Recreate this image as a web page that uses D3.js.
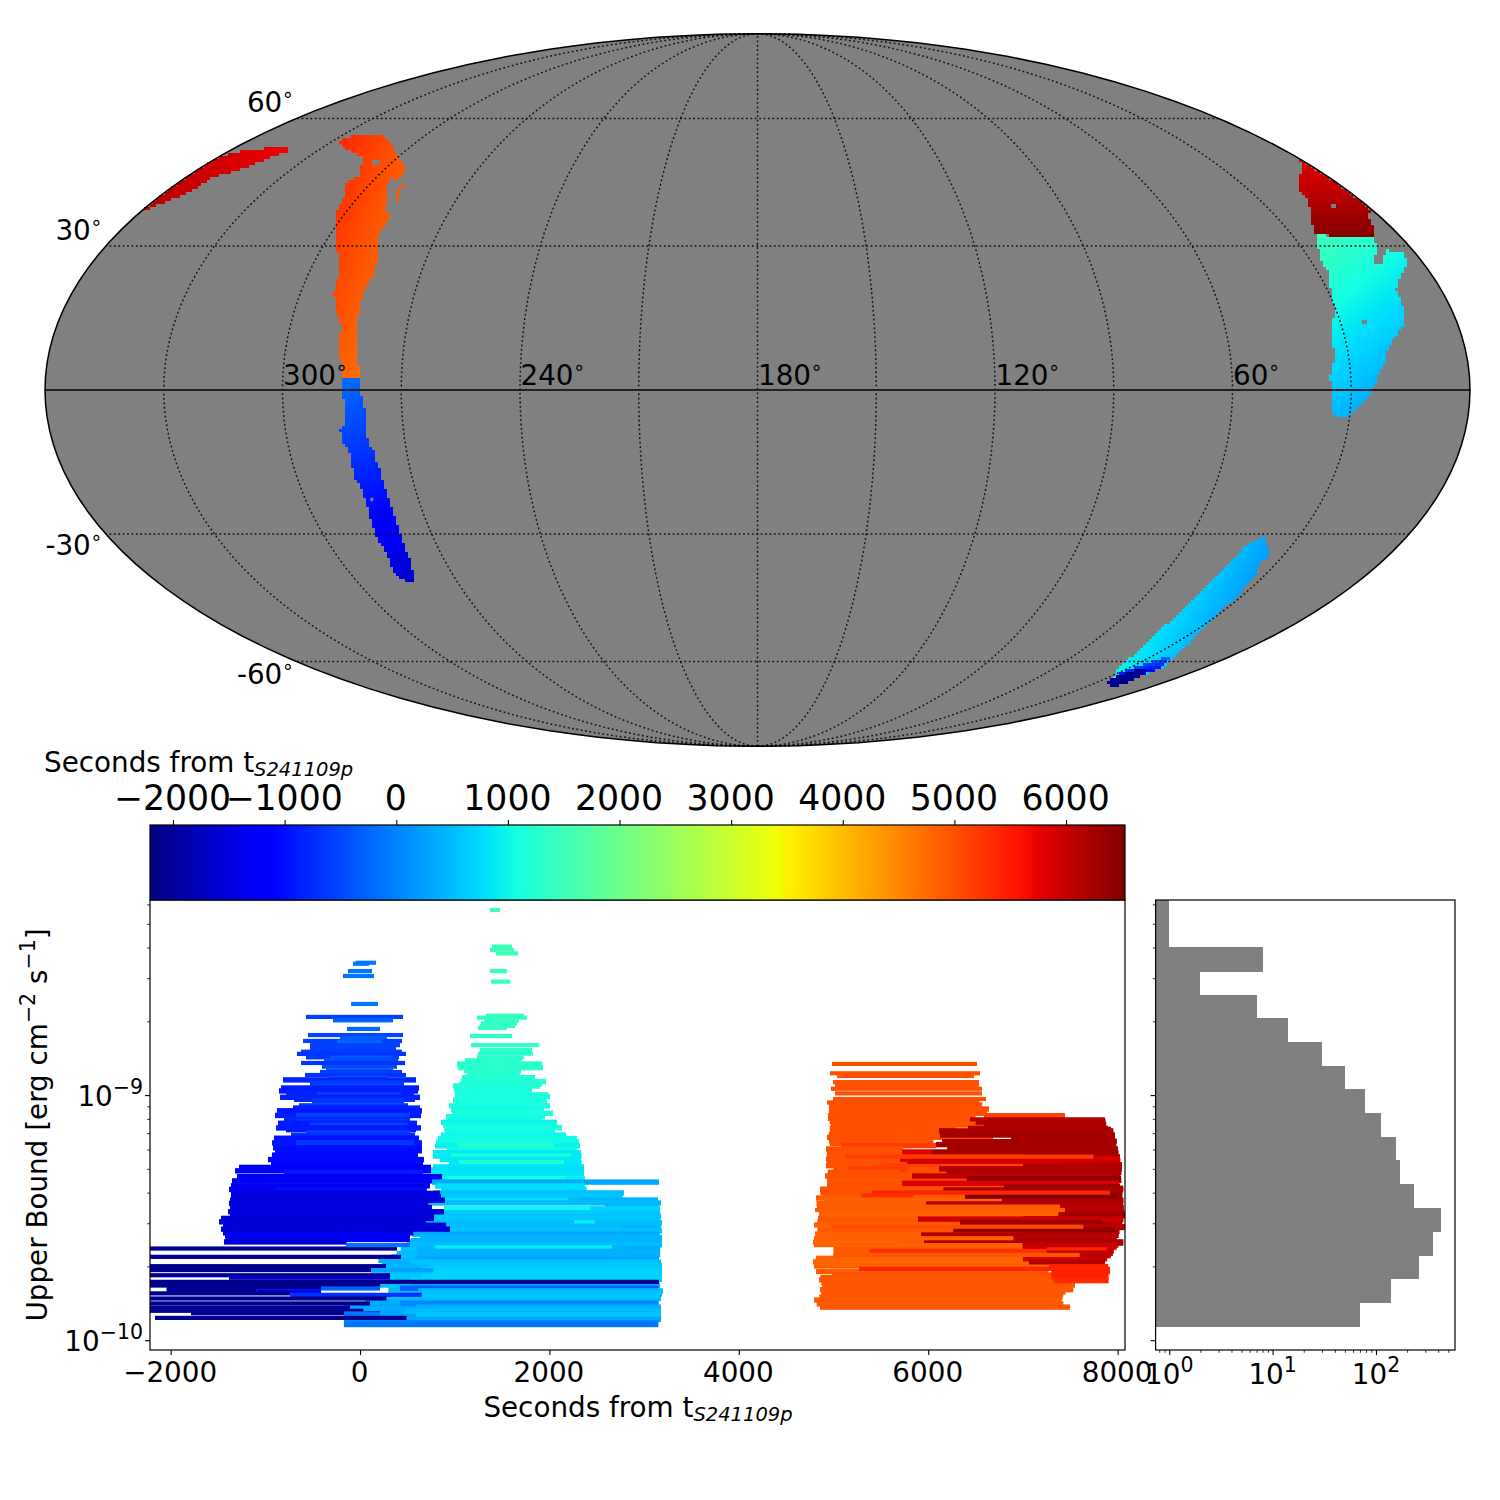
<!DOCTYPE html>
<html><head><meta charset="utf-8">
<script src="https://cdn.jsdelivr.net/npm/d3@7/dist/d3.min.js"></script>
<style>html,body{margin:0;background:#fff}svg{display:block}text{font-family:"DejaVu Sans";fill:#000}</style>
</head><body><svg id="c" width="1500" height="1500"></svg>
<script>
// ---------- colour scale limits and ticks ----------
const timeMin=-2206, timeMax=6528;
const colorbarTicks=[-2000,-1000,0,1000,2000,3000,4000,5000,6000];
const timeTicks=[-2000,0,2000,4000,6000,8000];
const timeLimits=[-2218,8078];
const boundLog10Limits=[-10.04,-8.204];
const boundMajorLog10=[-10,-9];
const boundMinor=[2e-10,3e-10,4e-10,5e-10,6e-10,7e-10,8e-10,9e-10,2e-9,3e-9,4e-9,5e-9,6e-9];
const meridians=[0,30,60,90,120,150,180,210,240,270,300,330,360];
const parallels=[-60,-30,30,60];
const lonLabels=[300,240,180,120,60];
const latLabels=[60,30,-30,-60];

// ---------- histogram ----------
const histEdgesLog10=[-8.204,-8.301,-8.397,-8.494,-8.590,-8.687,-8.784,-8.880,-8.977,-9.073,-9.170,-9.266,-9.363,-9.459,-9.556,-9.652,-9.749,-9.845,-9.942];
const histCounts=[1,1,8,2,7,14,30,50,78,112,156,171,233,426,356,261,140,70];

// ---------- sky regions: [lon, lat] outlines ----------
const skyCyan=[[22.7,32.4],[8.1,31.7],[8.4,30.2],[10.6,28],[12.4,27.6],[13.6,26.4],[10.9,26.4],[7.6,29.1],[3.1,28.7],[3.9,26.6],[5.7,25.5],[8.9,23.4],[11,21.2],[12.2,20.6],[11.9,19.2],[12.5,15.8],[13.4,13.8],[17.9,10.3],[19.7,8.2],[21,5.5],[23.2,2.7],[24.8,-0.4],[27.7,-3.1],[29.9,-5.5],[33.1,-5.9],[34.8,-4.5],[34.9,0],[35.3,2.7],[33.5,6.8],[33.3,10.9],[32,13.8],[30.3,16.4],[28.6,21.7],[27.3,24.2],[27.1,27],[25.4,29.8]];
const skyCyanTimes=[[17.8,31.4,1400],[31.3,-4.1,450],[14.2,15,700]];
const skyDarkRed=[[0.3,49.6],[0.3,43.7],[0.3,38],[2.9,36.9],[5.1,34.1],[7.8,32],[24.1,32.4],[20,36.2],[15.6,40.2],[14.4,42.5],[8.7,46],[6.6,46.4]];
const skyDarkRedTimes=[[2.5,47.1,5880],[25,32.4,6450],[8.1,32.4,6450]];
const skyBlue=[[285,3.5],[281.1,4.1],[280.4,0],[279.9,-2.05],[279.4,-4.1],[279.2,-7.6],[279.6,-11.3],[278.4,-11.9],[278.4,-14],[277.9,-16.4],[278,-19.2],[277.9,-22.3],[277.8,-25],[278.4,-28.5],[279.2,-32.8],[279.9,-35.7],[280.9,-38],[283.3,-40.8],[286.2,-40.2],[286.7,-38],[285.3,-34.1],[285.7,-31.4],[285.2,-28.5],[284.4,-24.3],[284.1,-21.2],[284.9,-18.1],[284.8,-15.4],[284.8,-11.9],[286,-11.3],[286.1,-8.2],[284.6,-6.6],[284.5,-2.7],[285,0]];
const skyBlueTimes=[[282.9,3.1,-180],[285.7,-39,-1550],[277.9,-16.4,-850]];
const skyOrange=[[327.7,54],[326.4,55.3],[315.6,55.75],[306,52.7],[300.4,50.3],[296.2,48.8],[292,46.7],[292.8,44.8],[295.6,45.3],[293.4,42.5],[289,38],[286.2,36.4],[286.2,32],[283.9,28.5],[282.3,24.3],[283.6,20],[283.4,17.5],[283,13.8],[281.7,7.6],[280.5,2.7],[285,2.7],[287,10.3],[286.5,12.4],[288.3,15],[291.2,20],[291.7,22.9],[292.9,26.4],[296.9,30.6],[303.1,38],[303.8,40.2],[307.5,44.1],[306,46],[311.8,50.3],[317,51.3],[323.1,52.5]];
const skyOrangeIsland=[[288.6,43.9],[289.2,42.5],[287.4,40.2],[288,40.2],[290.2,42],[290.2,43.7]];
const skyOrangeTimes=[[321,54.6,5250],[287.7,18.5,5000],[282.9,22.9,4880]];
const skyRedStrip=[[359.9,37.9],[359.9,41.3],[359.9,44.3],[359.9,47.1],[359.9,50.3],[356.8,51.5],[347.9,52.5],[341.4,52.5],[339.5,51.5],[342.3,50],[346.3,47.1],[351.6,45.4],[352.4,42],[356.5,39.5],[358.9,38.2]];
const skyRedStripTimes=[[359.5,39,6090],[340.2,52,5680],[350.4,46,5890]];
const skySouth=[[38.9,-30.4],[33.7,-35.3],[35,-36.2],[32.9,-38.6],[31.8,-42.5],[31.2,-44.8],[30.1,-49.1],[27.6,-52.5],[24.7,-55.2],[22.3,-57.6],[20.9,-59.1],[16.4,-61.8],[16.9,-64.5],[16.4,-66.5],[16.3,-67.4],[23.4,-66.2],[28.7,-64.2],[36.2,-60.4],[37.9,-58.3],[40.1,-55.2],[42.6,-51.5],[43.2,-48.4],[44,-45.3],[44.6,-41.9],[43.8,-38.6],[43.6,-35.7],[43.2,-33],[40.9,-31.4]];
const skySouthTimes=[[43.6,-33.4,500],[39,-54.6,800],[26.6,-54.6,500]];
const skySouthBlue=[[29.3,-63.7],[28.2,-61.2],[25.2,-59.6],[23.9,-58],[17,-61.5],[17.5,-63.7],[24,-64.2]];
const skySouthBlueTimes=[[29.5,-60.4,-300],[24,-58.3,-100],[17.6,-62.9,-1200]];
const skySouthNavy=[[23.4,-66.2],[27.5,-64.8],[25.6,-62.1],[20.7,-62.3],[16.9,-64.5],[16.4,-66.5],[16.3,-67.4]];
const skySouthNavyTimes=[[23.4,-66.2,-2080],[25.6,-62.1,-2080],[16.4,-66.5,-2080]];
const skyHoles=[
 [[24.3,14.4],[23,14.4],[23.3,13.5],[24.6,13.5]],
 [[10.1,39.3],[8.6,39.3],[10,38.4],[11.4,38.4]],
 [[282.6,-22.3],[281.8,-22.3],[282.2,-23],[282.9,-23]],
 [[307.6,49.6],[305,49.6],[303,48.4],[305.7,48.4]]
];

// ---------- upper-limit bars: [log10 upper bound, start s, end s, colour time s] ----------
const lightFillBars=[
[-9.600,528,1400,500],[-9.615,500,1400,600],[-9.630,430,1400,560],[-9.646,387,1400,500],[-9.660,330,1400,540],
[-9.674,193,1400,450],[-9.690,230,1400,400],[-9.703,150,1400,450],[-9.714,116,1400,400],[-9.728,250,1400,560],
[-9.742,316,1400,600],[-9.756,306,1400,560],[-9.775,211,1400,500],[-9.790,300,1400,480],[-9.805,300,1400,500],
[-9.820,290,1400,500],[-9.835,281,1400,520],[-9.848,52,1400,350],[-9.862,-169,1400,300],[-9.876,-169,1400,350],
[-9.890,-169,1400,300],[-9.905,-169,1400,250],[-9.920,-169,1400,200],[-9.930,-169,1400,100]
];
const lightBars=[
[-8.245,1372,1478,1500],[-8.394,1394,1605,1500],[-8.408,1372,1626,1500],[-8.422,1436,1668,1500],
[-8.494,1372,1552,1420],[-8.537,1383,1584,1420],[-8.676,1330,1731,1400],[-8.684,1235,1763,1400],
[-8.696,1309,1679,1400],[-8.707,1277,1658,1380],[-8.718,1267,1636,1380],[-8.726,1246,1552,1380],
[-8.759,1161,1605,1340],[-8.796,1172,1890,1340],[-8.816,1267,1816,1340],[-8.831,1246,1826,1340],
[-8.846,1235,1731,1320],[-8.858,1108,1710,1300],[-8.873,1024,1922,1280],[-8.888,1034,1932,1300],
[-8.900,1100,1700,1300],[-8.913,1130,1689,1260],[-8.929,1077,1848,1200],[-8.945,1066,1964,1240],
[-8.955,1050,1922,1200],[-8.963,982,1900,1200],[-8.979,992,1816,1100],[-8.999,1003,1985,1140],
[-9.006,1003,2006,1140],[-9.020,982,1964,1160],[-9.032,1003,1975,1120],[-9.044,939,2006,1100],
[-9.058,961,1943,1040],[-9.074,971,2038,1160],[-9.088,908,1953,1080],[-9.099,918,1912,1040],
[-9.111,855,2080,980],[-9.122,876,2080,1040],[-9.133,887,2133,1120],[-9.149,897,2059,1040],
[-9.163,855,2175,1000],[-9.177,823,2291,1040],[-9.191,802,2312,1040],[-9.207,792,2323,960],
[-9.207,1024,2048,1300],[-9.222,918,2288,1040],[-9.235,770,2333,900],[-9.249,770,2340,900],
[-9.249,961,2228,1100],[-9.263,844,2333,880],[-9.276,940,2340,880],[-9.276,1045,2154,1220],
[-9.293,770,2365,850],[-9.306,749,2365,800],[-9.320,749,2365,850],[-9.331,770,2365,850],
[-9.340,690,2376,950],[-9.340,918,2164,1100],[-9.355,760,3157,330],[-9.371,792,2375,800],
[-9.385,855,2393,760],[-9.399,780,2787,540],[-9.415,855,2773,600],[-9.428,2164,3147,450],
[-9.430,730,2200,800],[-9.440,718,3178,500],[-9.449,2587,3154,400],[-9.464,887,3168,700],[-9.464,887,2430,1000],
[-9.480,740,3168,600],[-9.494,781,3178,600],[-9.510,680,3170,600],[-9.521,633,3189,500],
[-9.521,2260,2480,950],[-9.535,600,3180,500],[-9.544,2766,3160,380],[-9.554,844,3189,550],
[-9.567,549,3161,330],[-9.581,633,3189,450],[-9.594,538,3189,420],[-9.611,492,3189,500],
[-9.623,598,3168,450],[-9.623,792,2661,900],[-9.630,2809,3168,300],[-9.638,598,3168,400],
[-9.650,600,3170,420],[-9.668,598,3157,300],[-9.682,538,3178,550],[-9.696,728,3189,600],
[-9.711,654,3189,650],[-9.725,770,3189,700],[-9.739,654,3189,720],[-9.752,528,3189,700],
[-9.777,538,3168,330],[-9.788,422,3150,-300],[-9.799,612,3199,460],[-9.812,654,3189,540],
[-9.830,496,3178,520],[-9.849,422,3154,30],[-9.865,591,3178,400],[-9.882,475,3178,500],
[-9.898,591,3178,560],[-9.915,-169,3178,300],[-9.929,-170,3150,20],[-9.936,-170,3150,-100]
];
const blueBars=[
[-8.460,-43,169,-90],[-8.464,-74,95,-90],[-8.494,-127,126,-100],[-8.514,-180,147,-110],
[-8.628,-95,190,-80],[-8.681,-571,454,-560],[-8.695,-286,348,-300],[-8.730,-138,211,-230],
[-8.755,-550,454,-520],[-8.768,-212,285,-300],[-8.779,-602,443,-560],[-8.781,-243,232,-260],
[-8.796,-528,422,-560],[-8.809,-528,380,-560],[-8.823,-623,443,-600],[-8.832,-666,485,-680],
[-8.846,-571,411,-600],[-8.847,-317,348,-400],[-8.857,-380,401,-480],[-8.869,-623,475,-680],
[-8.884,-402,390,-480],[-8.900,-359,348,-400],[-8.906,-423,443,-560],[-8.918,-581,485,-680],
[-8.932,-328,295,-400],[-8.938,-814,591,-800],[-8.951,-528,464,-600],[-8.963,-433,433,-500],
[-8.971,-835,623,-860],[-8.983,-856,612,-900],[-8.990,-782,570,-840],[-9.000,-454,433,-520],
[-9.009,-845,633,-860],[-9.017,-697,580,-800],[-9.024,-507,464,-640],[-9.044,-645,506,-620],
[-9.053,-708,633,-840],[-9.064,-877,654,-900],[-9.070,-814,559,-940],[-9.083,-898,644,-880],
[-9.083,-676,528,-560],[-9.099,-803,528,-760],[-9.108,-708,528,-640],[-9.115,-866,602,-880],
[-9.122,-528,506,-560],[-9.134,-887,644,-900],[-9.141,-782,591,-900],[-9.155,-571,528,-560],
[-9.164,-729,580,-700],[-9.176,-909,623,-960],[-9.195,-930,654,-960],[-9.195,-676,570,-640],
[-9.215,-919,654,-1000],[-9.227,-898,654,-1020],[-9.245,-930,612,-1040],[-9.263,-972,675,-1060],
[-9.276,-940,665,-1060],[-9.295,-1278,749,-1220],[-9.309,-1320,749,-1220],[-9.315,-803,665,-900],
[-9.333,-1299,866,-1300],[-9.350,-1352,760,-1340],[-9.370,-1363,739,-1380],[-9.385,-1384,704,-1300],
[-9.385,-898,704,-1020],[-9.401,-1363,845,-1500],[-9.415,-1363,855,-1480],[-9.429,-1373,897,-1500],
[-9.442,-1384,721,-1500],[-9.459,-1373,760,-1500],[-9.476,-1394,887,-1520],[-9.490,-1373,781,-1520],
[-9.503,-1468,781,-1550],[-9.517,-1489,697,-1560],[-9.531,-1447,908,-1560],[-9.547,-1468,950,-1540],
[-9.562,-1447,563,-1480],[-9.575,-1426,528,-1300],[-9.589,-1415,528,-1280],[-9.599,-1437,-141,-1560]
];
const navyBars=[
[-9.626,-2218,390,-2080],[-9.660,-2218,433,-2080],[-9.698,-2218,274,-2080],[-9.714,-2218,116,-2080],
[-9.735,-2218,316,-2100],[-9.745,-1384,316,-1700],[-9.762,-2218,3157,-2100],[-9.777,-2218,212,-2100],
[-9.786,-2042,-200,-2100],[-9.796,-2042,-1092,-2100],[-9.802,-1092,-412,-1250],[-9.809,-2218,-740,-2100],[-9.815,-739,651,-700],
[-9.830,-2218,281,-2100],[-9.850,-2218,105,-2100],[-9.867,-2218,-106,-2100],[-9.880,-2218,35,-2100],
[-9.890,-1785,211,-2050],[-9.909,-2165,492,-2100]
];
const lightTopBars=[
[-9.612,-148,528,-130],[-9.714,116,781,300],[-9.789,-412,211,-280],[-9.891,-169,211,-100]
];
const orangeFillBars=[
[-9.240,5000,7100,5000],[-9.256,5000,7000,5050],[-9.272,5000,7150,5000],[-9.288,5000,7000,5150],
[-9.304,5000,7200,5000],[-9.320,5000,7050,5050],[-9.336,5000,7000,5000],[-9.352,5000,7150,5100],
[-9.368,5000,7000,5050],[-9.384,5000,7250,5000],[-9.400,5000,7000,5150],[-9.416,5000,7100,4950],
[-9.432,5000,7000,4900],[-9.448,5000,7200,4900],[-9.464,5000,7100,4900],[-9.480,5000,7000,4950],
[-9.496,5000,7200,4950],[-9.512,5000,7100,4950],[-9.528,5000,7000,4900],[-9.544,5000,7250,4900],
[-9.560,5000,7100,4950],[-9.576,5000,7050,4900],[-9.592,5000,7150,4900],[-9.608,5000,7000,4900],
[-9.624,5000,7200,4950],[-9.640,5000,7250,4900],[-9.656,5000,7250,4900]
];
const redFillBars=[
[-9.108,7000,7870,6180],[-9.124,7000,7880,6180],[-9.140,7000,7930,6200],[-9.156,7000,7955,6230],
[-9.172,7000,7972,6200],[-9.188,7000,7990,6250],[-9.204,7000,7985,6250],[-9.220,7000,8004,6250],
[-9.236,7000,8010,6200],[-9.252,7000,8025,6100],[-9.268,7000,8030,6000],[-9.284,7000,8046,6100],
[-9.300,7000,8046,6180],[-9.316,7000,8040,6200],[-9.332,7000,8030,6100],[-9.348,7000,8040,6300],
[-9.364,7000,8020,5900],[-9.380,7000,8060,6250],[-9.396,7000,8050,6200],[-9.412,7000,8050,6300],
[-9.428,7000,8060,6250],[-9.444,7000,8060,6150],[-9.460,7000,8065,6150],[-9.476,7000,8070,6100],
[-9.492,7000,8078,6300],[-9.508,7000,8060,5950],[-9.524,7000,8050,6200],[-9.540,7000,8075,6100],
[-9.556,7000,8020,6250],[-9.572,7000,8010,6150],[-9.588,7000,7990,6100],[-9.604,7000,8060,6200],
[-9.620,7000,7990,5900],[-9.636,7000,7960,6000],[-9.652,7000,7930,6050],[-9.668,7000,7890,5800]
];
const orangeBars=[
[-8.873,4984,6515,5000],[-8.911,4963,6547,5000],[-8.922,5037,6483,5000],[-8.947,4994,6536,5000],
[-8.963,5016,6536,5000],[-8.974,4973,6568,5000],[-8.993,5016,6568,5000],[-9.016,4994,6610,5000],
[-9.030,4931,6536,5000],[-9.040,4950,6570,5000],[-9.057,4952,6642,5000],[-9.074,4952,6621,5000],
[-9.084,4942,6500,5000],[-9.084,6589,7444,5150],[-9.095,4942,6441,5000],[-9.108,4960,6500,5000],
[-9.122,4973,6631,5000],[-9.135,4960,6300,5000],[-9.148,4963,6124,5000],[-9.160,4950,6300,5000],
[-9.172,4931,6684,5000],[-9.186,4952,6054,5000],[-9.197,4960,6000,5000],[-9.206,5079,6082,5200],
[-9.220,4920,5737,5000],[-9.238,4931,5700,5000],[-9.250,4930,5700,5000],[-9.262,4920,5700,5000],
[-9.275,4930,5500,5000],[-9.288,4920,5400,5000],[-9.303,5153,5786,5200],[-9.315,4940,5700,5000],
[-9.330,4910,5829,5000],[-9.342,4930,5800,5000],[-9.353,4931,5723,4950],[-9.367,4931,5700,5000],
[-9.384,4857,5700,5000],[-9.398,4860,5800,5000],[-9.409,4900,5843,5000],[-9.420,4815,5900,4900],
[-9.431,4900,6779,4850],[-9.443,4820,6000,4900],[-9.503,4836,5892,4900],[-9.516,4830,6336,4950],
[-9.530,4794,6200,4850],[-9.550,4830,6265,4950],[-9.567,4804,5924,4850],[-9.601,4783,5667,4800],
[-9.666,4815,7268,4820],[-9.680,4783,7075,4820],[-9.697,4794,7268,4850],[-9.720,4815,7268,4900],
[-9.734,4984,7532,5000],[-9.754,4847,7321,4950],[-9.775,4892,7550,4950],[-9.794,4857,7532,4950],
[-9.812,4875,7427,4950],[-9.836,4794,7409,4900],[-9.852,4822,7427,4950],[-9.865,4857,7497,4950],
[-9.745,4860,7300,4950],[-9.765,4870,7400,4950],[-9.785,4880,7500,4950],[-9.803,4870,7450,4950],[-9.824,4850,7420,4950]
];
const darkRedBars=[
[-9.099,6441,7867,6180],[-9.110,6500,7870,6180],[-9.118,6589,7878,6180],[-9.136,6420,7900,6180],
[-9.146,6114,7955,6200],[-9.163,6124,7972,6250],[-9.180,6874,7972,6200],[-9.190,6146,7990,6250],
[-9.202,6082,7972,6250],[-9.218,6200,7990,6250],[-9.232,6040,8004,6250],[-9.232,5723,6040,5800],
[-9.262,5702,8025,5820],[-9.270,5780,8025,5900],[-9.285,7409,8046,6100],[-9.301,6114,8046,6180],
[-9.315,6195,7990,6200],[-9.330,5829,7955,6050],[-9.341,6406,8036,6400],[-9.360,5723,8008,5820],
[-9.374,6800,8025,6300],[-9.387,6160,8060,6200],[-9.412,6388,7990,6520],[-9.431,6779,8060,6250],
[-9.444,5977,8053,6150],[-9.465,7300,8060,6100],[-9.480,7300,8070,6150],[-9.489,7370,8078,6300],
[-9.506,5892,8060,5950],[-9.520,6336,7832,6300],[-9.537,7630,8078,6100],[-9.550,6265,7973,6400],
[-9.571,5924,8008,6150],[-9.584,6900,7990,6100],[-9.599,5955,8060,6200],[-9.612,6994,8008,6000],
[-9.632,7251,7885,5400],[-9.645,7250,7950,6000],[-9.655,7585,7920,6050],[-9.680,7064,7867,6150],
[-9.700,7268,7900,5450],[-9.720,7300,7920,5450],[-9.741,7300,7905,5450],[-9.757,7320,7905,5350]
];
const orangeTopBars=[
[-9.251,5121,7744,5200],[-9.398,5406,7920,5400],[-9.409,5290,5843,5300],[-9.455,4826,7392,4900],
[-9.469,4804,7444,4900],[-9.485,4847,7374,4850],[-9.537,4984,7638,5050],[-9.584,4794,6899,4850],
[-9.612,4794,6994,4850],[-9.636,5375,7251,5300],[-9.652,5000,7600,4950],[-9.709,5269,7920,5400]
];

// ---------- helpers ----------
const svg=d3.select("#c");
const jetChannels={
 r:[[0,.35,.66,.89,1],[0,0,1,1,.5]],
 g:[[0,.125,.375,.64,.91,1],[0,0,1,1,0,0]],
 b:[[0,.11,.34,.65,1],[.5,1,1,0,0]]};
const chan=k=>d3.scaleLinear().domain(jetChannels[k][0]).range(jetChannels[k][1]);
const jr=chan("r"),jg=chan("g"),jb=chan("b");
const jet=f=>`rgb(${Math.round(jr(f)*255)},${Math.round(jg(f)*255)},${Math.round(jb(f)*255)})`;
const timeFrac=d3.scaleLinear().domain([timeMin,timeMax]).range([0,1]).clamp(true);
const timeColor=t=>jet(timeFrac(t));
const minus=s=>String(s).replace("-","\u2212");

// ---------- Mollweide map ----------
function mollweideRaw(l,p){
  let th=p;
  if(Math.abs(Math.abs(p)-Math.PI/2)>=1e-9){const k=Math.PI*Math.sin(p);for(let i=0;i<60;i++){const d=(2*th+Math.sin(2*th)-k)/(2+2*Math.cos(2*th));th-=d;if(Math.abs(d)<1e-9)break;}}
  return [2*Math.SQRT2/Math.PI*l*Math.cos(th),Math.SQRT2*Math.sin(th)];
}
const proj=d3.geoProjection(mollweideRaw).rotate([-180,0]).reflectX(true).scale(712.5/(2*Math.SQRT2)).translate([757.5,390]).precision(.2);
const geo=d3.geoPath(proj);
const gMap=svg.append("g");
gMap.append("path").datum({type:"Sphere"}).attr("d",geo).attr("fill","#808080");

const cell=3;
function region(outline,anchors){
  const poly=outline.map(d=>proj(d));
  const A=anchors.map(a=>{const p=proj([a[0],a[1]]);return [p[0],p[1],a[2]];});
  const det=(A[1][1]-A[2][1])*(A[0][0]-A[2][0])+(A[2][0]-A[1][0])*(A[0][1]-A[2][1]);
  const tAt=(x,y)=>{
    const w0=((A[1][1]-A[2][1])*(x-A[2][0])+(A[2][0]-A[1][0])*(y-A[2][1]))/det;
    const w1=((A[2][1]-A[0][1])*(x-A[2][0])+(A[0][0]-A[2][0])*(y-A[2][1]))/det;
    return w0*A[0][2]+w1*A[1][2]+(1-w0-w1)*A[2][2];
  };
  const xs=d3.extent(poly,d=>d[0]),ys=d3.extent(poly,d=>d[1]);
  const cells=[];
  for(let y=Math.floor(ys[0]/cell)*cell;y<=ys[1];y+=cell)
    for(let x=Math.floor(xs[0]/cell)*cell;x<=xs[1];x+=cell)
      if(d3.polygonContains(poly,[x+cell/2,y+cell/2])) cells.push({x,y,t:tAt(x+cell/2,y+cell/2)});
  gMap.append("g").attr("shape-rendering","crispEdges").selectAll("rect").data(cells).join("rect")
    .attr("x",d=>d.x).attr("y",d=>d.y).attr("width",cell).attr("height",cell).attr("fill",d=>timeColor(d.t));
}
region(skyCyan,skyCyanTimes);
region(skyDarkRed,skyDarkRedTimes);
region(skyBlue,skyBlueTimes);
region(skyOrange,skyOrangeTimes);
region(skyOrangeIsland,skyOrangeTimes);
region(skyRedStrip,skyRedStripTimes);
region(skySouth,skySouthTimes);
region(skySouthBlue,skySouthBlueTimes);
region(skySouthNavy,skySouthNavyTimes);
gMap.append("g").selectAll("path").data(skyHoles).join("path")
  .attr("d",h=>"M"+h.map(d=>proj(d).join(",")).join("L")+"Z").attr("fill","#808080");

const lineFor=c=>({type:"LineString",coordinates:c});
const gGrid=gMap.append("g").attr("fill","none").attr("stroke","#111").attr("stroke-width",1.5).attr("stroke-dasharray","1.8,2.6");
meridians.filter(m=>m>0&&m<360).forEach(m=>{
  gGrid.append("path").attr("d",geo(lineFor(d3.range(-90,90.5,1).map(la=>[m,la]))));
});
parallels.forEach(p=>{
  const a=proj([0.001,p]),b=proj([359.999,p]);
  gGrid.append("line").attr("x1",a[0]).attr("x2",b[0]).attr("y1",a[1]).attr("y2",b[1]);
});
const eqL=proj([359.999,0]),eqR=proj([0.001,0]);
gMap.append("line").attr("x1",eqL[0]).attr("x2",eqR[0]).attr("y1",eqL[1]).attr("y2",eqR[1]).attr("stroke","#222").attr("stroke-width",2);
gMap.append("path").datum({type:"Sphere"}).attr("d",geo).attr("fill","none").attr("stroke","#000").attr("stroke-width",1.5);

const FS=27.8, SUB=20.5;
function degLabel(x,y,txt,anchor){
  const t=gMap.append("text").attr("x",x).attr("y",y).attr("font-size",FS).attr("text-anchor",anchor);
  t.append("tspan").text(txt);
  t.append("tspan").attr("font-size",19.5).attr("dy",-11).attr("dx",-.5).text("\u2218");
}
lonLabels.forEach(l=>{const p=proj([l,0]);degLabel(p[0]+.5,385,l,"start");});
const latLabelPos={"60":[294,112],"30":[102.5,240],"-30":[102.5,555],"-60":[294,684]};
latLabels.forEach(l=>degLabel(latLabelPos[l][0],latLabelPos[l][1],l,"end"));

// ---------- main panel ----------
const L={l:150,r:1125,t:900,b:1350};
const x=d3.scaleLinear().domain(timeLimits).range([L.l,L.r]);
const y=d3.scaleLog().domain(boundLog10Limits.map(v=>10**v)).range([L.b,L.t]);
const thinBar=4.2, thickBar=5.4;
const gBars=svg.append("g");
[[lightFillBars,0],[lightBars,-8.86],[blueBars,-8.93],[navyBars,-99],[lightTopBars,-99],
 [orangeFillBars,0],[orangeBars,-9.03],[redFillBars,0],[darkRedBars,-9.1],[orangeTopBars,-99]].forEach(([set,thr])=>{
  const h=d=>d[0]<thr?thickBar:thinBar;
  gBars.append("g").selectAll("rect").data(set).join("rect")
    .attr("x",d=>x(d[1])).attr("width",d=>Math.max(0,x(d[2])-x(d[1])))
    .attr("y",d=>y(10**d[0])-h(d)/2).attr("height",h)
    .attr("fill",d=>timeColor(d[3]));
});
const frame=(g,l,t,w,h)=>g.append("rect").attr("x",l).attr("y",t).attr("width",w).attr("height",h).attr("fill","none").attr("stroke","#000").attr("stroke-width",1.2);

function styleAxis(g){g.select(".domain").remove();g.selectAll(".tick line").attr("stroke","#000").attr("stroke-width",1.1);g.selectAll("text").attr("font-family","DejaVu Sans");}
svg.append("g").attr("transform",`translate(0,${L.b})`)
  .call(d3.axisBottom(x).tickValues(timeTicks).tickSize(5).tickPadding(7).tickFormat(minus))
  .call(styleAxis).call(g=>g.selectAll("text").attr("font-size",FS).attr("dx",-1));
function boundTicks(xPos){
  svg.append("g").attr("transform",`translate(${xPos},0)`)
    .call(d3.axisLeft(y).tickValues(boundMajorLog10.map(v=>10**v)).tickSize(5).tickFormat(""))
    .call(styleAxis);
  svg.append("g").attr("transform",`translate(${xPos},0)`)
    .call(d3.axisLeft(y).tickValues(boundMinor).tickSize(2.8).tickFormat(""))
    .call(styleAxis).call(g=>g.selectAll(".tick line").attr("stroke-width",.8));
}
boundTicks(L.l);
boundMajorLog10.forEach(e=>{
  const t=svg.append("text").attr("x",143).attr("y",y(10**e)+11).attr("text-anchor","end").attr("font-size",FS);
  t.append("tspan").text("10");
  t.append("tspan").attr("font-size",SUB).attr("dy",-12.5).text(minus(e));
});
frame(svg,L.l,L.t,L.r-L.l,L.b-L.t);

function secondsLabel(px,py,anchor){
  const t=svg.append("text").attr("x",px).attr("y",py).attr("text-anchor",anchor).attr("font-size",FS);
  t.append("tspan").text("Seconds from t");
  t.append("tspan").attr("font-size",19.5).attr("font-style","oblique").attr("dy",4).text("S241109p");
}
secondsLabel(638,1417,"middle");
secondsLabel(44,772,"start");

const yl=svg.append("text").attr("transform","translate(47,1125) rotate(-90)").attr("text-anchor","middle").attr("font-size",FS);
yl.append("tspan").text("Upper Bound [erg cm");
yl.append("tspan").attr("font-size",SUB).attr("dy",-12).text("\u22122");
yl.append("tspan").attr("dy",12).text(" s");
yl.append("tspan").attr("font-size",SUB).attr("dy",-12).text("\u22121");
yl.append("tspan").attr("dy",12).text("]");

// ---------- colour bar ----------
const C={t:825,b:900};
const cx=d3.scaleLinear().domain([timeMin,timeMax]).range([L.l,L.r]);
const grad=svg.append("defs").append("linearGradient").attr("id","jetGrad");
grad.selectAll("stop").data(d3.range(0,1.0001,1/128)).join("stop").attr("offset",d=>d).attr("stop-color",d=>jet(d));
svg.append("rect").attr("x",L.l).attr("y",C.t).attr("width",L.r-L.l).attr("height",C.b-C.t).attr("fill","url(#jetGrad)");
svg.append("g").attr("transform",`translate(0,${C.t})`)
  .call(d3.axisTop(cx).tickValues(colorbarTicks).tickSize(5).tickPadding(10.5).tickFormat(minus))
  .call(styleAxis).call(g=>g.selectAll("text").attr("font-size",34.7).attr("dx",-1));
frame(svg,L.l,C.t,L.r-L.l,C.b-C.t);

// ---------- histogram panel ----------
const H={l:1155.6,r:1455,t:900,b:1350};
const hx=d3.scaleLog().domain([0.738,581]).range([H.l,H.r]);
svg.append("g").attr("shape-rendering","crispEdges").selectAll("rect").data(histCounts).join("rect")
  .attr("x",H.l).attr("width",d=>hx(d)-H.l)
  .attr("y",(d,i)=>y(10**histEdgesLog10[i]))
  .attr("height",(d,i)=>y(10**histEdgesLog10[i+1])-y(10**histEdgesLog10[i])+.6)
  .attr("fill","#808080");
boundTicks(H.l);
const histMajor=[1,10,100];
const histMinor=[.8,.9,2,3,4,5,6,7,8,9,20,30,40,50,60,70,80,90,200,300,400,500];
svg.append("g").attr("transform",`translate(0,${H.b})`)
  .call(d3.axisBottom(hx).tickValues(histMajor).tickSize(5).tickFormat("")).call(styleAxis);
svg.append("g").attr("transform",`translate(0,${H.b})`)
  .call(d3.axisBottom(hx).tickValues(histMinor).tickSize(2.8).tickFormat("")).call(styleAxis)
  .call(g=>g.selectAll(".tick line").attr("stroke-width",.8));
histMajor.forEach((v,i)=>{
  const t=svg.append("text").attr("x",hx(v)).attr("y",1384).attr("text-anchor","middle").attr("font-size",FS);
  t.append("tspan").text("10");
  t.append("tspan").attr("font-size",SUB).attr("dy",-12.5).text(i);
});
frame(svg,H.l,H.t,H.r-H.l,H.b-H.t);
</script></body></html>
